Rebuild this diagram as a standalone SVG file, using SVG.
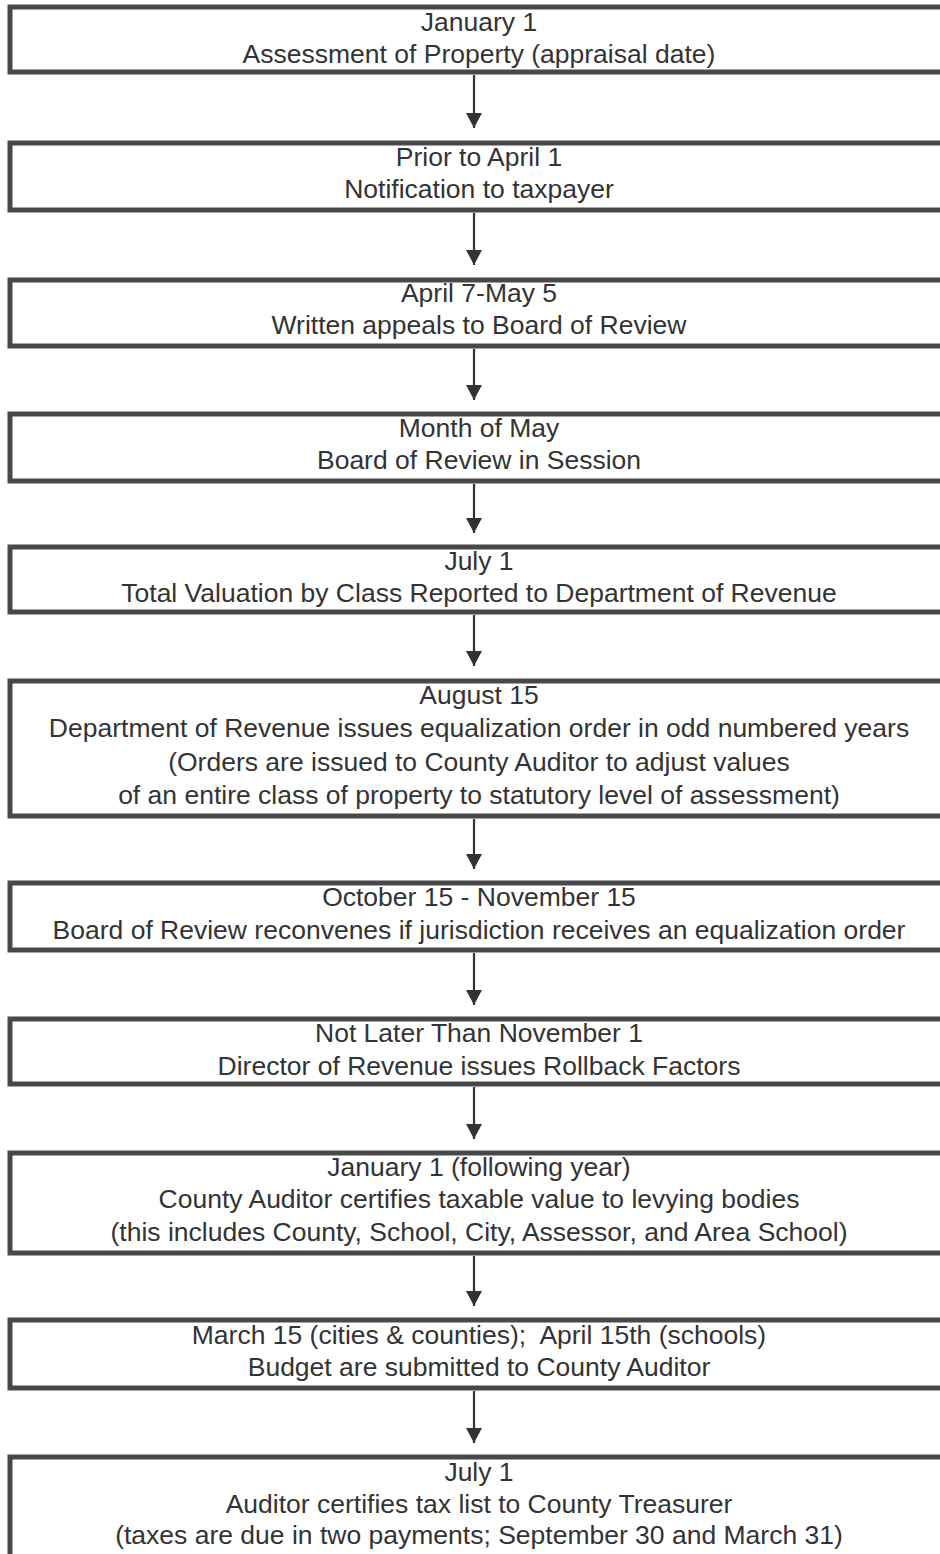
<svg xmlns="http://www.w3.org/2000/svg" width="940" height="1554" viewBox="0 0 940 1554">
<style>
.box{fill:#fff;stroke:#484848;stroke-width:5}
.t{font-family:"Liberation Sans",Arial,sans-serif;font-size:26.5px;fill:#333;text-anchor:middle}
.c{stroke:#333;stroke-width:2.2;fill:none}
</style>
<defs>
<marker id="ah" markerWidth="16" markerHeight="16" refX="15" refY="8" orient="auto" markerUnits="userSpaceOnUse">
<path d="M0,0 L15,8 L0,16 Z" fill="#333"/>
</marker>
</defs>
<rect width="940" height="1554" fill="#fff"/>
<g id="connectors">
<line class="c" x1="474" y1="75" x2="474" y2="128" marker-end="url(#ah)"/>
<line class="c" x1="474" y1="213" x2="474" y2="265" marker-end="url(#ah)"/>
<line class="c" x1="474" y1="349" x2="474" y2="400" marker-end="url(#ah)"/>
<line class="c" x1="474" y1="484" x2="474" y2="533" marker-end="url(#ah)"/>
<line class="c" x1="474" y1="615" x2="474" y2="666" marker-end="url(#ah)"/>
<line class="c" x1="474" y1="819" x2="474" y2="869" marker-end="url(#ah)"/>
<line class="c" x1="474" y1="953" x2="474" y2="1005" marker-end="url(#ah)"/>
<line class="c" x1="474" y1="1087" x2="474" y2="1139" marker-end="url(#ah)"/>
<line class="c" x1="474" y1="1256" x2="474" y2="1306" marker-end="url(#ah)"/>
<line class="c" x1="474" y1="1391" x2="474" y2="1443" marker-end="url(#ah)"/>
</g>
<g id="n1"><rect class="box" x="10" y="7" width="950" height="65"/>
<text class="t" x="479" y="31">January 1</text>
<text class="t" x="479" y="63">Assessment of Property (appraisal date)</text></g>
<g id="n2"><rect class="box" x="10" y="143" width="950" height="67"/>
<text class="t" x="479" y="166">Prior to April 1</text>
<text class="t" x="479" y="198">Notification to taxpayer</text></g>
<g id="n3"><rect class="box" x="10" y="280" width="950" height="66"/>
<text class="t" x="479" y="302">April 7-May 5</text>
<text class="t" x="479" y="334">Written appeals to Board of Review</text></g>
<g id="n4"><rect class="box" x="10" y="414" width="950" height="67"/>
<text class="t" x="479" y="437">Month of May</text>
<text class="t" x="479" y="469">Board of Review in Session</text></g>
<g id="n5"><rect class="box" x="10" y="547" width="950" height="65"/>
<text class="t" x="479" y="570">July 1</text>
<text class="t" x="479" y="602">Total Valuation by Class Reported to Department of Revenue</text></g>
<g id="n6"><rect class="box" x="10" y="681" width="950" height="135"/>
<text class="t" x="479" y="704">August 15</text>
<text class="t" x="479" y="737">Department of Revenue issues equalization order in odd numbered years</text>
<text class="t" x="479" y="771">(Orders are issued to County Auditor to adjust values</text>
<text class="t" x="479" y="804">of an entire class of property to statutory level of assessment)</text></g>
<g id="n7"><rect class="box" x="10" y="883" width="950" height="67"/>
<text class="t" x="479" y="906">October 15 - November 15</text>
<text class="t" x="479" y="939">Board of Review reconvenes if jurisdiction receives an equalization order</text></g>
<g id="n8"><rect class="box" x="10" y="1019" width="950" height="65"/>
<text class="t" x="479" y="1042">Not Later Than November 1</text>
<text class="t" x="479" y="1075">Director of Revenue issues Rollback Factors</text></g>
<g id="n9"><rect class="box" x="10" y="1153" width="950" height="100"/>
<text class="t" x="479" y="1176">January 1 (following year)</text>
<text class="t" x="479" y="1208">County Auditor certifies taxable value to levying bodies</text>
<text class="t" x="479" y="1241">(this includes County, School, City, Assessor, and Area School)</text></g>
<g id="n10"><rect class="box" x="10" y="1320" width="950" height="68"/>
<text class="t" x="479" y="1344" xml:space="preserve">March 15 (cities &amp; counties);  April 15th (schools)</text>
<text class="t" x="479" y="1376">Budget are submitted to County Auditor</text></g>
<g id="n11"><rect class="box" x="10" y="1457" width="950" height="120"/>
<text class="t" x="479" y="1481">July 1</text>
<text class="t" x="479" y="1513">Auditor certifies tax list to County Treasurer</text>
<text class="t" x="479" y="1544">(taxes are due in two payments; September 30 and March 31)</text></g>
</svg>
